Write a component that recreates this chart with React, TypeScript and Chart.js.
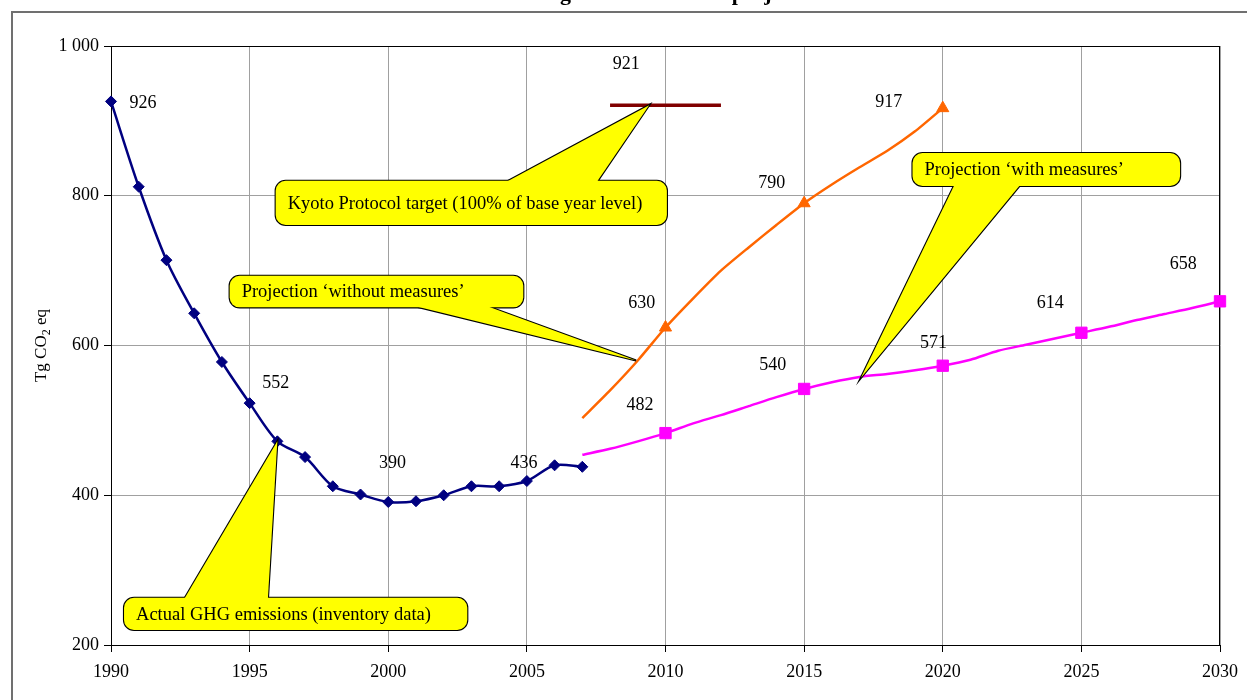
import React, { useEffect, useRef } from "react";
import { Chart, registerables } from "chart.js";

Chart.register(...registerables);

const FONT = "'Liberation Serif', 'Times New Roman', serif";

// ---- data ----
const actualYears = [1990, 1991, 1992, 1993, 1994, 1995, 1996, 1997, 1998, 1999, 2000, 2001, 2002, 2003, 2004, 2005, 2006, 2007];
const actualValues = [926, 812, 714, 643, 578, 523, 472, 451, 412, 401, 391, 392, 400, 412, 412, 419, 440, 438];

const withoutYears = [2007, 2008, 2009, 2010, 2011, 2012, 2013, 2014, 2015, 2016, 2017, 2018, 2019, 2020];
const withoutValues = [503, 540, 580, 624, 663, 700, 731, 761, 790, 815, 838, 860, 886, 917];
const withoutMarkerYears = [2010, 2015, 2020];

const withYears = [2007, 2008, 2009, 2010, 2011, 2012, 2013, 2014, 2015, 2016, 2017, 2018, 2019, 2020, 2021, 2022, 2023, 2024, 2025, 2026, 2027, 2028, 2029, 2030];
const withValues = [454, 462, 472, 483, 496, 507, 519, 531, 542, 551, 558, 562, 567, 573, 581, 593, 601, 609, 617, 625, 634, 642, 650, 659];
const withMarkerYears = [2010, 2015, 2020, 2025, 2030];

const kyotoYears = [2008, 2012];
const kyotoValues = [921, 921];

const xTickMin = 1990;
const xTickMax = 2030;
const xTickStep = 5;
const yTickMin = 200;
const yTickMax = 1000;
const yTickStep = 200;

// value labels (text, anchored in data coordinates)
const labelTexts = ["926", "552", "390", "436", "921", "630", "482", "790", "540", "917", "571", "614", "658"];
const labelYears = [1991.15, 1995.94, 2000.15, 2004.9, 2008.58, 2009.14, 2009.08, 2013.83, 2013.87, 2018.05, 2019.67, 2023.88, 2028.67];
const labelValues = [923, 550, 443, 443, 976, 657, 520, 817, 574, 925, 603, 656, 709];

// callouts: box [yearLeft, valueTop, yearRight, valueBottom], base years on edge, tip [year, value]
const calloutTexts = [
  "Kyoto Protocol target (100% of base year level)",
  "Projection \u2018without measures\u2019",
  "Projection \u2018with measures\u2019",
  "Actual GHG emissions (inventory data)",
];
const calloutBoxes = [
  [1995.94, 820, 2010.05, 761],
  [1994.28, 693, 2004.87, 651],
  [2018.91, 857, 2028.56, 813],
  [1990.47, 263, 2002.85, 220],
];
const calloutBases = [
  [2004.0, 2007.43],
  [2000.4, 2003.18],
  [2020.49, 2022.91],
  [1992.56, 1995.65],
];
const calloutEdges = ["top", "bottom", "bottom", "top"];
const calloutTips = [
  [2009.41, 921],
  [2008.94, 580],
  [2017.05, 557],
  [1996, 472],
];

const titleText = "Greenhouse gas emissions and projections";
const yTitleMain = "Tg CO";
const yTitleSub = "2";
const yTitleEnd = " eq";

const pts = (xs: number[], ys: number[]) => xs.map((x, i) => ({ x, y: ys[i] }));

const overlayPlugin = {
  id: "overlay",
  beforeDraw(chart: any) {
    const { ctx } = chart;
    ctx.save();
    ctx.fillStyle = "#ffffff";
    ctx.fillRect(0, 0, chart.width, chart.height);
    // outer frame
    ctx.strokeStyle = "#707070";
    ctx.lineWidth = 2;
    ctx.strokeRect(12, 12, chart.width + 100, chart.height + 100);
    // clipped title
    ctx.fillStyle = "#000";
    ctx.font = `bold 22px ${FONT}`;
    ctx.textBaseline = "alphabetic";
    ctx.textAlign = "left";
    const pre = ctx.measureText("Greenhouse ").width;
    ctx.fillText(titleText, 565 - pre - 5, 0);
    ctx.restore();
  },
  beforeDatasetsDraw(chart: any) {
    const { ctx, chartArea } = chart;
    ctx.save();
    ctx.strokeStyle = "#000";
    ctx.lineWidth = 1;
    ctx.strokeRect(chartArea.left + 0.5, chartArea.top + 0.5, chartArea.right - chartArea.left - 1, chartArea.bottom - chartArea.top);
    ctx.restore();
  },
  afterDatasetsDraw(chart: any) {
    const { ctx } = chart;
    const xs = chart.scales.x;
    const ys = chart.scales.y;
    ctx.save();
    // callouts
    for (let i = 0; i < calloutTexts.length; i++) {
      const b = calloutBoxes[i];
      const x1 = xs.getPixelForValue(b[0]);
      const x2 = xs.getPixelForValue(b[2]);
      const y1 = ys.getPixelForValue(b[1]);
      const y2 = ys.getPixelForValue(b[3]);
      const bx1 = xs.getPixelForValue(calloutBases[i][0]);
      const bx2 = xs.getPixelForValue(calloutBases[i][1]);
      const by = calloutEdges[i] === "top" ? y1 + 5 : y2 - 5;
      const tx = xs.getPixelForValue(calloutTips[i][0]);
      const ty = ys.getPixelForValue(calloutTips[i][1]);
      const boxPath = () => {
        ctx.beginPath();
        ctx.roundRect(x1, y1, x2 - x1, y2 - y1, 10);
      };
      const triPath = () => {
        ctx.beginPath();
        ctx.moveTo(bx1, by);
        ctx.lineTo(tx, ty);
        ctx.lineTo(bx2, by);
        ctx.closePath();
      };
      ctx.strokeStyle = "#000";
      ctx.lineWidth = 2.2;
      ctx.lineJoin = "miter";
      triPath();
      ctx.stroke();
      boxPath();
      ctx.stroke();
      ctx.fillStyle = "#FFFF00";
      triPath();
      ctx.fill();
      boxPath();
      ctx.fill();
      ctx.fillStyle = "#000";
      ctx.font = `18.5px ${FONT}`;
      ctx.textAlign = "left";
      ctx.textBaseline = "middle";
      ctx.fillText(calloutTexts[i], x1 + 12, (y1 + y2) / 2 + 1);
    }
    // value labels
    ctx.fillStyle = "#000";
    ctx.font = `18px ${FONT}`;
    ctx.textAlign = "center";
    ctx.textBaseline = "middle";
    for (let i = 0; i < labelTexts.length; i++) {
      ctx.fillText(labelTexts[i], xs.getPixelForValue(labelYears[i]), ys.getPixelForValue(labelValues[i]));
    }
    ctx.restore();
  },
  afterDraw(chart: any) {
    const { ctx, chartArea } = chart;
    ctx.save();
    ctx.translate(40, (chartArea.top + chartArea.bottom) / 2);
    ctx.rotate(-Math.PI / 2);
    ctx.fillStyle = "#000";
    ctx.textBaseline = "alphabetic";
    ctx.textAlign = "left";
    const mainFont = `17px ${FONT}`;
    const subFont = `12px ${FONT}`;
    ctx.font = mainFont;
    const w1 = ctx.measureText(yTitleMain).width;
    const w3 = ctx.measureText(yTitleEnd).width;
    ctx.font = subFont;
    const w2 = ctx.measureText(yTitleSub).width;
    let x = -(w1 + w2 + w3) / 2;
    const base = 6;
    ctx.font = mainFont;
    ctx.fillText(yTitleMain, x, base);
    x += w1;
    ctx.font = subFont;
    ctx.fillText(yTitleSub, x, base + 4);
    x += w2;
    ctx.font = mainFont;
    ctx.fillText(yTitleEnd, x, base);
    ctx.restore();
  },
};

export default function App() {
  const canvasRef = useRef<HTMLCanvasElement | null>(null);

  useEffect(() => {
    if (!canvasRef.current) return;
    const chart = new Chart(canvasRef.current, {
      type: "line",
      data: {
        datasets: [
          {
            label: "Kyoto target",
            data: pts(kyotoYears, kyotoValues),
            borderColor: "#800000",
            backgroundColor: "#800000",
            borderWidth: 3.5,
            pointRadius: 0,
            tension: 0,
            clip: false,
          },
          {
            label: "Without measures",
            data: pts(withoutYears, withoutValues),
            borderColor: "#FF6600",
            backgroundColor: "#FF6600",
            borderWidth: 2.5,
            pointStyle: "triangle",
            pointBorderWidth: 1,
            pointRadius: (c: any) => (c.parsed && withoutMarkerYears.includes(c.parsed.x) ? 7 : 0),
            tension: 0.2,
            clip: false,
          },
          {
            label: "With measures",
            data: pts(withYears, withValues),
            borderColor: "#FF00FF",
            backgroundColor: "#FF00FF",
            borderWidth: 2.5,
            pointStyle: "rect",
            pointBorderWidth: 1,
            pointRadius: (c: any) => (c.parsed && withMarkerYears.includes(c.parsed.x) ? 8 : 0),
            tension: 0.25,
            clip: false,
          },
          {
            label: "Actual",
            data: pts(actualYears, actualValues),
            borderColor: "#000080",
            backgroundColor: "#000080",
            borderWidth: 2.5,
            pointStyle: "rectRot",
            pointBorderWidth: 1,
            pointRadius: 5.5,
            tension: 0.3,
            clip: false,
          },
        ],
      } as any,
      options: {
        responsive: false,
        animation: false,
        devicePixelRatio: 1,
        layout: { padding: { left: 0, top: 46, right: 23, bottom: 0 } },
        plugins: {
          legend: { display: false },
          tooltip: { enabled: false },
          title: { display: false },
        },
        scales: {
          x: {
            type: "linear",
            min: xTickMin,
            max: xTickMax,
            ticks: {
              stepSize: xTickStep,
              callback: (v: any) => String(v),
              color: "#000",
              font: { family: FONT, size: 18 },
              padding: 9,
              maxRotation: 0,
              autoSkip: false,
            },
            grid: { color: "#a0a0a0", lineWidth: 1, tickLength: 7, tickColor: "#000", drawTicks: true },
            border: { color: "#000", width: 1 },
            afterFit: (s: any) => {
              s.height = 55;
            },
          },
          y: {
            type: "linear",
            min: yTickMin,
            max: yTickMax,
            ticks: {
              stepSize: yTickStep,
              callback: (v: any) => (v >= 1000 ? "1 000" : String(v)),
              color: "#000",
              font: { family: FONT, size: 18 },
              padding: 5,
            },
            grid: { color: "#a0a0a0", lineWidth: 1, tickLength: 7, tickColor: "#000", drawTicks: true },
            border: { color: "#000", width: 1 },
            afterFit: (s: any) => {
              s.width = 111;
            },
          },
        },
      } as any,
      plugins: [overlayPlugin],
    });
    return () => chart.destroy();
  }, []);

  return (
    <div style={{ position: "fixed", left: 0, top: 0, width: 1247, height: 700, background: "#fff" }}>
      <canvas ref={canvasRef} width={1247} height={700} style={{ display: "block", width: 1247, height: 700 }} />
    </div>
  );
}
